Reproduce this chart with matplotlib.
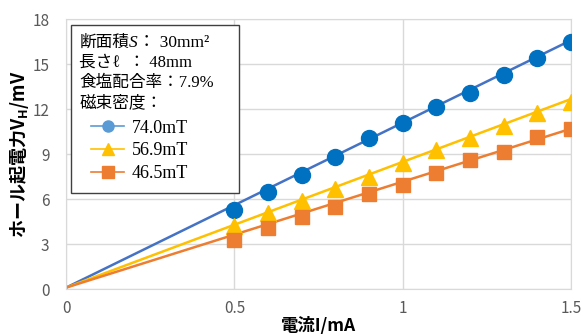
import matplotlib.pyplot as plt
import numpy as np
from matplotlib.lines import Line2D
from matplotlib.patches import Rectangle

# 電流 I (mA)
current = [0.5, 0.6, 0.7, 0.8, 0.9, 1.0, 1.1, 1.2, 1.3, 1.4, 1.5]

# ホール起電力 (mV) for each magnetic flux density
v_740 = [5.3, 6.5, 7.6, 8.8, 10.1, 11.1, 12.15, 13.1, 14.3, 15.4, 16.45]
v_569 = [4.2, 5.1, 5.9, 6.7, 7.5, 8.4, 9.25, 10.1, 10.9, 11.75, 12.45]
v_465 = [3.3, 4.05, 4.8, 5.5, 6.35, 6.95, 7.75, 8.6, 9.15, 10.15, 10.65]

labels = ['74.0mT', '56.9mT', '46.5mT']
info_lines = ['長さℓ  ： 48mm', '食塩配合率：7.9%', '磁束密度：']

x_ticks = [0, 0.5, 1, 1.5]
y_ticks = [0, 3, 6, 9, 12, 15, 18]

jp_serif = ['Liberation Serif', 'Noto Sans CJK JP']
jp_sans = ['Noto Sans CJK JP', 'DejaVu Sans']

fig = plt.figure(figsize=(5.85, 3.35), dpi=100)
ax = fig.add_axes([0.113, 0.137, 0.863, 0.806])

series = [
    (v_740, '#4472C4', '#0070C0', '#5B9BD5', 'o', 11.5),
    (v_569, '#FFC000', '#FFC000', '#FFC000', '^', 11.5),
    (v_465, '#ED7D31', '#ED7D31', '#ED7D31', 's', 10),
]

x = np.array(current)
xs = np.array([0, 1.5])
handles = []
for vals, lc, mc, hc, mk, ms in series:
    y = np.array(vals)
    # 原点を通る近似直線
    slope = np.sum(x * y) / np.sum(x * x)
    ax.plot(xs, slope * xs + 0.1, color=lc, lw=1.8, zorder=2)
    ax.plot(x, y, linestyle='none', marker=mk, ms=ms, color=mc, zorder=3)
    handles.append(Line2D([], [], color=hc, lw=1.2, marker=mk, ms=8))

ax.set_xlim(0, 1.5)
ax.set_ylim(0, 18)
ax.set_xticks(x_ticks)
ax.set_xticklabels(['0', '0.5', '1', '1.5'])
ax.set_yticks(y_ticks)
ax.grid(True, color='#D9D9D9', lw=1)
ax.set_axisbelow(True)
for s in ax.spines.values():
    s.set_color('#D9D9D9')
ax.tick_params(length=0, labelsize=11, labelcolor='#595959')
ax.tick_params(axis='x', pad=8)
ax.tick_params(axis='y', pad=12)
for lab in ax.get_xticklabels() + ax.get_yticklabels():
    lab.set_family(jp_sans)

ax.set_xlabel('電流I/mA', family=jp_sans, fontsize=12.5, fontweight='bold', labelpad=0)
ax.set_ylabel('ホール起電力V$_\\mathregular{H}$/mV', family=jp_sans, fontsize=13,
              fontweight='bold', labelpad=1)

# 条件の枠
ax.add_patch(Rectangle((0.0099, 0.356), 0.333, 0.622, transform=ax.transAxes,
                       facecolor='white', edgecolor='#404040', lw=1, zorder=5))

t1 = ax.text(0.026, 0.911, '断面積', transform=ax.transAxes, family=jp_serif,
             fontsize=12, va='center', zorder=6)
t2 = ax.annotate('S', xy=(1, 0), xycoords=t1, va='bottom', family='Liberation Serif',
                 style='italic', fontsize=12.5, zorder=6)
ax.annotate('： 30mm²', xy=(1, 0), xycoords=t2, va='bottom', family=jp_serif,
            fontsize=12.5, zorder=6)

for i, line in enumerate(info_lines):
    ax.text(0.026, 0.839 - i * 0.075, line, transform=ax.transAxes, family=jp_serif,
            fontsize=12, va='center', zorder=6)

leg = ax.legend(handles, labels, loc='upper left', bbox_to_anchor=(0.05, 0.628),
                frameon=False, borderpad=0, borderaxespad=0, handlelength=1.8,
                handletextpad=0.45, labelspacing=0.33,
                prop={'family': 'Liberation Serif', 'size': 13})
leg.set_zorder(7)

fig.savefig('out.png', dpi=100)
